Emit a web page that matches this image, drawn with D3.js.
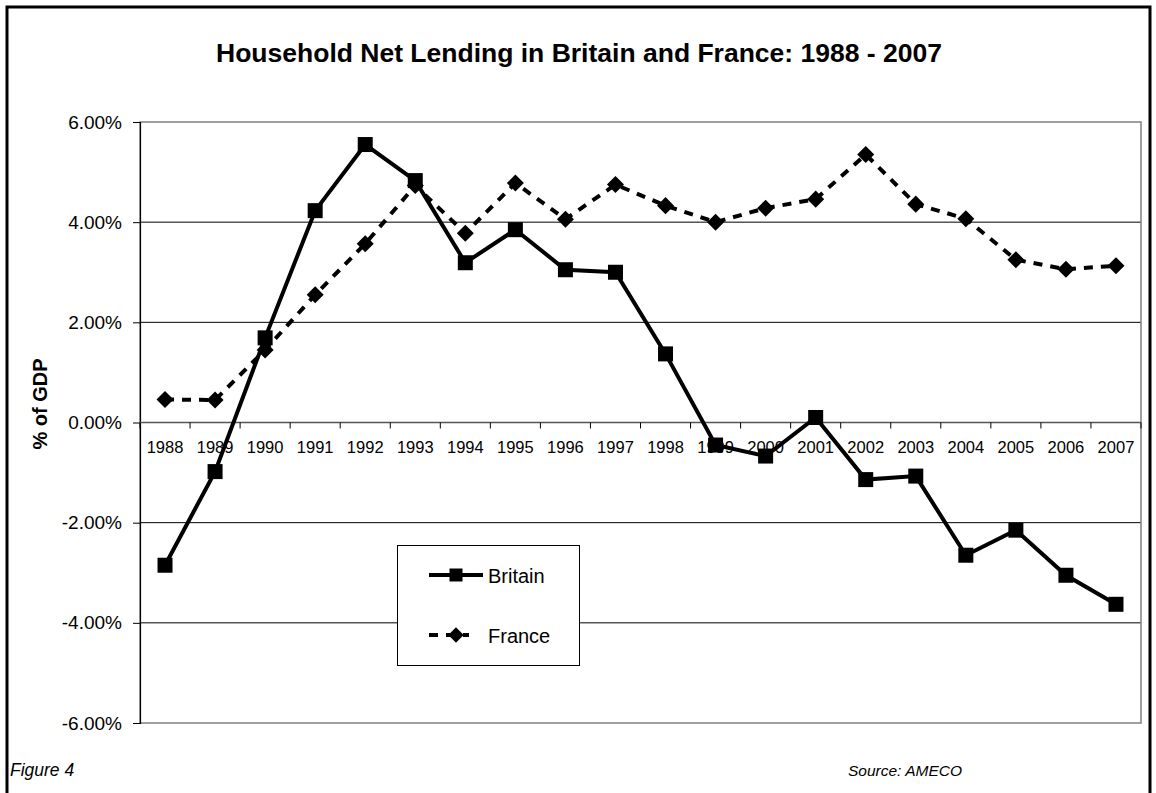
<!DOCTYPE html>
<html>
<head>
<meta charset="utf-8">
<script src="https://cdn.jsdelivr.net/npm/d3@7/dist/d3.min.js"></script>
<style>
  html, body { margin: 0; padding: 0; background: #fff; }
  svg { display: block; font-family: Arial, "Liberation Sans", sans-serif; }
</style>
</head>
<body>
<svg id="chart" width="1156" height="793"></svg>
<script>
// Household net lending, % of GDP (AMECO)
const years = ["1988","1989","1990","1991","1992","1993","1994","1995","1996","1997",
               "1998","1999","2000","2001","2002","2003","2004","2005","2006","2007"];
const britain = [-2.85, -0.98, 1.69, 4.23, 5.55, 4.83, 3.19, 3.85, 3.05, 3.00,
                 1.37, -0.45, -0.67, 0.10, -1.14, -1.07, -2.65, -2.15, -3.05, -3.63];
const france  = [0.46, 0.45, 1.45, 2.55, 3.57, 4.73, 3.78, 4.78, 4.06, 4.75,
                 4.33, 4.00, 4.28, 4.46, 5.35, 4.36, 4.07, 3.25, 3.06, 3.13];
const yTicks = [-6, -4, -2, 0, 2, 4, 6];

const svg = d3.select("#chart");
const plot = { left: 140, right: 1141, top: 122, bottom: 723 };

const x = d3.scaleBand().domain(years).range([plot.left, plot.right]).padding(0);
const y = d3.scaleLinear().domain([-6, 6]).range([plot.bottom, plot.top]);
const cx = d => x(d) + x.bandwidth() / 2;

// outer frame
svg.append("rect")
  .attr("x", 7).attr("y", 7).attr("width", 1143).attr("height", 800)
  .attr("fill", "none").attr("stroke", "#000").attr("stroke-width", 3);

// title
svg.append("text")
  .attr("x", 579).attr("y", 62)
  .attr("text-anchor", "middle")
  .attr("font-size", 26.5).attr("font-weight", "bold")
  .text("Household Net Lending in Britain and France: 1988 - 2007");

// horizontal gridlines
svg.append("g").selectAll("line")
  .data(yTicks.filter(t => t !== 6 && t !== -6))
  .join("line")
  .attr("x1", plot.left).attr("x2", plot.right)
  .attr("y1", d => y(d)).attr("y2", d => y(d))
  .attr("stroke", "#000").attr("stroke-width", 1);

// plot area border (grey)
svg.append("rect")
  .attr("x", plot.left).attr("y", plot.top)
  .attr("width", plot.right - plot.left).attr("height", plot.bottom - plot.top)
  .attr("fill", "none").attr("stroke", "#808080").attr("stroke-width", 1.5);

// y axis
const pct = d => d3.format(".2f")(d).replace("\u2212", "-") + "%";
const yAxis = d3.axisLeft(y).tickValues(yTicks).tickSize(7).tickPadding(11)
  .tickFormat(pct);
const gy = svg.append("g").attr("transform", `translate(${plot.left},0)`).call(yAxis);
gy.select(".domain").attr("stroke", "#000").attr("stroke-width", 1.2);
gy.selectAll(".tick line").attr("stroke", "#000");
gy.selectAll(".tick text").attr("font-size", 19).attr("fill", "#000")
  .attr("font-family", "Arial, 'Liberation Sans', sans-serif");

// x axis at zero, ticks between categories
const xAxisG = svg.append("g").attr("transform", `translate(0,${y(0)})`);
xAxisG.append("line")
  .attr("x1", plot.left).attr("x2", plot.right)
  .attr("stroke", "#555").attr("stroke-width", 1.5);
xAxisG.selectAll("line.tk")
  .data(years.concat(["end"]))
  .join("line").attr("class", "tk")
  .attr("x1", (d, i) => plot.left + i * x.bandwidth())
  .attr("x2", (d, i) => plot.left + i * x.bandwidth())
  .attr("y1", 0).attr("y2", 6)
  .attr("stroke", "#000").attr("stroke-width", 1);
xAxisG.selectAll("text")
  .data(years)
  .join("text")
  .attr("x", d => cx(d)).attr("y", 30)
  .attr("text-anchor", "middle")
  .attr("font-size", 16.5)
  .text(d => d);

// y axis title
svg.append("text")
  .attr("transform", "translate(47,404) rotate(-90)")
  .attr("text-anchor", "middle")
  .attr("font-size", 20).attr("font-weight", "bold")
  .text("% of GDP");

// series lines
const line = d3.line().x((d, i) => cx(years[i])).y(d => y(d));

svg.append("path").datum(france)
  .attr("d", line)
  .attr("fill", "none").attr("stroke", "#000").attr("stroke-width", 4)
  .attr("stroke-dasharray", "9,8");

const diamond = d3.symbol().type(d3.symbolDiamond2).size(185);
svg.append("g").selectAll("path")
  .data(france)
  .join("path")
  .attr("transform", (d, i) => `translate(${cx(years[i])},${y(d)})`)
  .attr("d", diamond)
  .attr("fill", "#000");

svg.append("path").datum(britain)
  .attr("d", line)
  .attr("fill", "none").attr("stroke", "#000").attr("stroke-width", 4)
  .attr("stroke-linejoin", "miter");

const sq = 15;
svg.append("g").selectAll("rect")
  .data(britain)
  .join("rect")
  .attr("x", (d, i) => cx(years[i]) - sq / 2)
  .attr("y", d => y(d) - sq / 2)
  .attr("width", sq).attr("height", sq)
  .attr("fill", "#000");

// legend
const lg = svg.append("g");
lg.append("rect")
  .attr("x", 397.5).attr("y", 545.5).attr("width", 182).attr("height", 120)
  .attr("fill", "#fff").attr("stroke", "#000").attr("stroke-width", 1);
lg.append("line")
  .attr("x1", 429).attr("x2", 483).attr("y1", 575).attr("y2", 575)
  .attr("stroke", "#000").attr("stroke-width", 4);
lg.append("rect")
  .attr("x", 456 - 6.5).attr("y", 575 - 6.5).attr("width", 13).attr("height", 13)
  .attr("fill", "#000");
lg.append("line")
  .attr("x1", 429).attr("x2", 469).attr("y1", 635).attr("y2", 635)
  .attr("stroke", "#000").attr("stroke-width", 4)
  .attr("stroke-dasharray", "9,8");
lg.append("path")
  .attr("transform", "translate(456,635)")
  .attr("d", d3.symbol().type(d3.symbolDiamond2).size(150))
  .attr("fill", "#000");
lg.append("text").attr("x", 488).attr("y", 583).attr("font-size", 20).text("Britain");
lg.append("text").attr("x", 488).attr("y", 643).attr("font-size", 20).text("France");

// footer notes
svg.append("text").attr("x", 10).attr("y", 776)
  .attr("font-size", 17.5).attr("font-style", "italic").text("Figure 4");
svg.append("text").attr("x", 848).attr("y", 776)
  .attr("font-size", 15.5).attr("font-style", "italic").text("Source: AMECO");
</script>
</body>
</html>
